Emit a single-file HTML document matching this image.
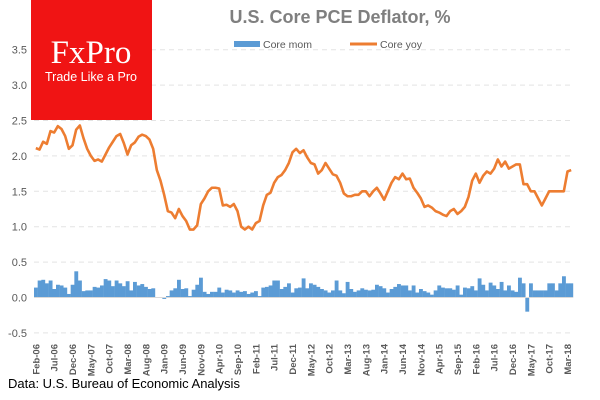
<!DOCTYPE html>
<html><head><meta charset="utf-8"><style>
body{margin:0;background:#fff;}
svg{display:block;font-family:"Liberation Sans",sans-serif;}
</style></head><body>
<svg id="chart" width="600" height="400" viewBox="0 0 600 400">
<g id="grid"></g><g id="bars"></g><g id="line"></g><g id="yax"></g><g id="xax"></g>
<rect x="31" y="0" width="121" height="120" fill="#f01414"/>
<text x="91" y="63" text-anchor="middle" fill="#fff" font-family="Liberation Serif,serif" font-size="33">FxPro</text>
<text x="91" y="81" text-anchor="middle" fill="#fff" font-size="12.5">Trade Like a Pro</text>
<text x="340" y="23" text-anchor="middle" fill="#7f7f7f" font-size="18" font-weight="bold">U.S. Core PCE Deflator, %</text>
<g>
<rect x="234" y="41" width="26" height="6" fill="#5b9bd5"/>
<text x="263" y="48" font-size="10.5" fill="#595959">Core mom</text>
<line x1="350" y1="44" x2="377" y2="44" stroke="#ed7d31" stroke-width="3"/>
<text x="380" y="48" font-size="10.5" fill="#595959">Core yoy</text>
</g>
<text x="8" y="388" font-size="13" fill="#000">Data: U.S. Bureau of Economic Analysis</text>
</svg>
<script>
const yTicks=[-0.5,0,0.5,1,1.5,2,2.5,3,3.5];
const yTickLabels=["-0.5","0.0","0.5","1.0","1.5","2.0","2.5","3.0","3.5"];
const xTickLabels=["Feb-06","Jul-06","Dec-06","May-07","Oct-07","Mar-08","Aug-08","Jan-09","Jun-09","Nov-09","Apr-10","Sep-10","Feb-11","Jul-11","Dec-11","May-12","Oct-12","Mar-13","Aug-13","Jan-14","Jun-14","Nov-14","Apr-15","Sep-15","Feb-16","Jul-16","Dec-16","May-17","Oct-17","Mar-18"];
const coreYoy=[2.11,2.09,2.2,2.17,2.35,2.33,2.42,2.38,2.28,2.1,2.15,
2.37,2.43,2.25,2.1,2.0,1.93,1.95,1.92,2.02,2.12,2.2,2.28,
2.31,2.18,2.02,2.15,2.19,2.27,2.3,2.28,2.23,2.1,1.8,1.65,
1.45,1.22,1.2,1.12,1.25,1.15,1.08,0.96,0.96,1.02,1.32,1.4,
1.5,1.55,1.55,1.54,1.3,1.31,1.28,1.32,1.22,1.0,0.96,1.0,
0.96,1.05,1.08,1.3,1.45,1.48,1.62,1.7,1.73,1.8,1.9,2.05,
2.1,2.04,2.08,1.98,1.9,1.88,1.75,1.8,1.9,1.82,1.74,1.72,
1.62,1.47,1.43,1.43,1.45,1.45,1.5,1.5,1.43,1.5,1.55,1.47,
1.38,1.5,1.62,1.7,1.67,1.75,1.67,1.68,1.55,1.48,1.4,1.28,
1.3,1.27,1.22,1.2,1.17,1.15,1.22,1.25,1.18,1.22,1.28,1.42,
1.65,1.75,1.62,1.72,1.78,1.75,1.82,1.95,1.85,1.92,1.82,1.85,
1.88,1.88,1.6,1.6,1.5,1.5,1.4,1.3,1.4,1.5,1.5,1.5,
1.5,1.5,1.78,1.8];
const coreMom=[0.14,0.24,0.25,0.2,0.24,0.12,0.18,0.17,0.14,0.05,
0.18,0.37,0.24,0.09,0.1,0.1,0.15,0.14,0.17,0.26,
0.24,0.16,0.24,0.2,0.16,0.23,0.1,0.22,0.17,0.19,
0.15,0.12,0.13,0.0,0.0,-0.02,0.02,0.1,0.13,0.25,
0.12,0.13,0.02,0.11,0.18,0.28,0.08,0.05,0.08,0.08,
0.14,0.07,0.11,0.1,0.07,0.1,0.08,0.09,0.05,0.07,0.09,0.02,
0.14,0.15,0.17,0.24,0.24,0.12,0.15,0.2,0.07,0.13,
0.14,0.27,0.13,0.2,0.18,0.15,0.12,0.1,0.07,0.1,
0.24,0.1,0.06,0.22,0.12,0.08,0.1,0.13,0.11,0.1,
0.11,0.18,0.16,0.13,0.07,0.12,0.15,0.19,0.17,0.17,0.1,0.17,
0.07,0.12,0.09,0.07,0.04,0.1,0.17,0.14,0.13,0.13,
0.11,0.17,0.04,0.14,0.13,0.16,0.1,0.27,0.18,0.1,0.21,0.17,
0.12,0.22,0.1,0.17,0.1,0.08,0.28,0.2,-0.2,0.2,
0.1,0.1,0.1,0.1,0.2,0.2,0.1,0.2,0.3,0.2,0.2];
const NS="http://www.w3.org/2000/svg";
const X0=34, X1=573, n=coreYoy.length, step=(X1-X0)/n;
const xPos=i=>X0+step*(i+0.5);
const yPos=v=>297.5-v*70.8;
function mk(tag,attrs,parent){const e=document.createElementNS(NS,tag);for(const k in attrs)e.setAttribute(k,attrs[k]);document.getElementById(parent).appendChild(e);return e;}
yTicks.forEach((v,i)=>{
  if(v!==0){const g=mk('line',{x1:X0,x2:X1,y1:yPos(v),y2:yPos(v),stroke:'#e3e3e3','stroke-dasharray':'5,4'},'grid');
  
  }
  const t=mk('text',{x:27,y:yPos(v)+4,'text-anchor':'end','font-size':'11','fill':'#595959'},'yax');
  t.textContent=yTickLabels[i];
  
  
});
coreMom.forEach((v,i)=>{
  const y=Math.min(yPos(v),yPos(0)),h=Math.abs(yPos(v)-yPos(0));
  const r=mk('rect',{x:xPos(i)-step/2,y:y,width:step+0.2,height:Math.max(h,0.5),fill:'#5b9bd5'},'bars');
  
  
});
const zl=mk('line',{x1:X0,x2:X1,y1:yPos(0),y2:yPos(0),stroke:'#d9d9d9'},'bars');


const p=mk('polyline',{points:coreYoy.map((v,i)=>xPos(i)+','+yPos(v)).join(' '),fill:'none',stroke:'#ed7d31','stroke-width':'2.6','stroke-linejoin':'round'},'line');


xTickLabels.forEach((l,k)=>{
  const x=xPos(k*5)+3.5;
  const t=mk('text',{x:x,y:344,transform:'rotate(-90 '+x+' 344)','text-anchor':'end','font-size':'9.5','font-weight':'bold','fill':'#595959'},'xax');
  t.textContent=l;
  
  
});
</script>
</body></html>
